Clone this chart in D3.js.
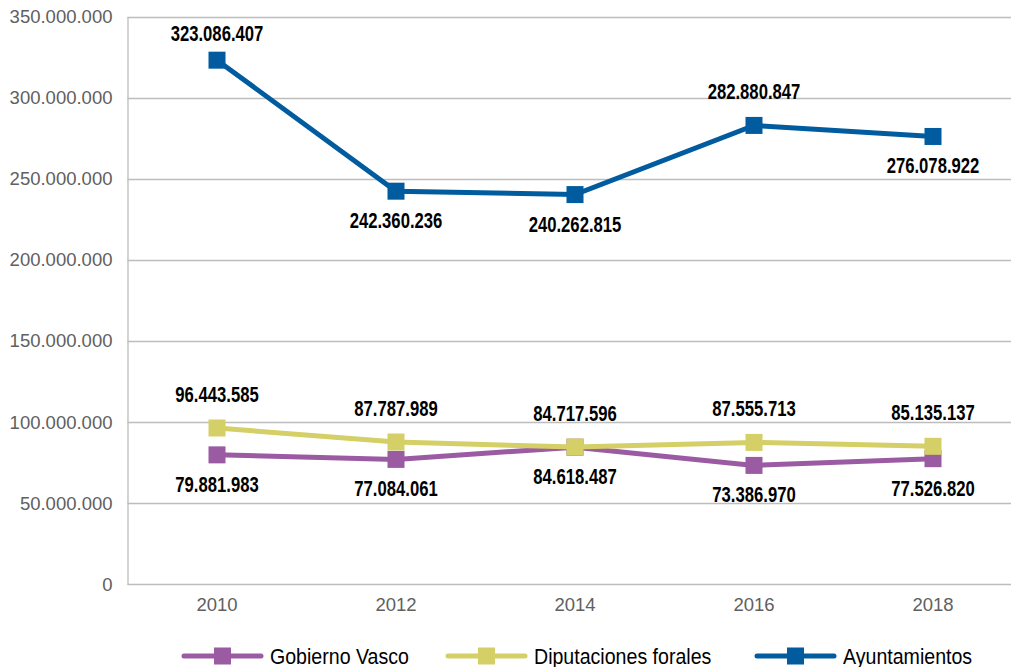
<!DOCTYPE html>
<html><head><meta charset="utf-8">
<script src="https://cdn.jsdelivr.net/npm/d3@7"></script>
<style>
html,body{margin:0;padding:0;background:#fff;}
svg{display:block;}
</style></head>
<body>
<svg id="chart" width="1011" height="667"></svg>
<script>
const years = ["2010","2012","2014","2016","2018"];
const gobiernoVasco = [79881983, 77084061, 84618487, 73386970, 77526820];
const diputaciones = [96443585, 87787989, 84717596, 87555713, 85135137];
const ayuntamientos = [323086407, 242360236, 240262815, 282880847, 276078922];
const ayuntamientosLabelPos = ["above","below","below","above","below"];
const yTicks = [0, 50000000, 100000000, 150000000, 200000000, 250000000, 300000000, 350000000];

(function(){
const series = [
  {name:"Gobierno Vasco", values:gobiernoVasco, color:"#9A5BA3", pos:years.map(()=>"below")},
  {name:"Diputaciones forales", values:diputaciones, color:"#D4CF66", pos:years.map(()=>"above")},
  {name:"Ayuntamientos", values:ayuntamientos, color:"#005C9F", pos:ayuntamientosLabelPos}
];

const fmt = v => d3.format(",")(v).replace(/,/g,".");
const svg = d3.select("#chart");
const mLeft = 127.5, mTop = 16.5, mBottom = 584.5;
const x = d3.scaleBand().domain(years).range([mLeft, mLeft + 179*5]);
const y = d3.scaleLinear().domain([0, 350000000]).range([mBottom, mTop]);

function condense(sel, factor){
  sel.each(function(){
    const w = this.getComputedTextLength();
    d3.select(this).attr("textLength", w*factor).attr("lengthAdjust","spacingAndGlyphs");
  });
}

// gridlines
svg.append("g").selectAll("line").data(yTicks.filter(d=>d>0)).join("line")
  .attr("x1", mLeft).attr("x2", 1011)
  .attr("y1", d=>Math.round(y(d))+0.5).attr("y2", d=>Math.round(y(d))+0.5)
  .attr("stroke", "#BDBDBD").attr("stroke-width", 1.3);

// y axis
const yAxis = svg.append("g").attr("transform", `translate(${mLeft},0)`)
  .call(d3.axisLeft(y).tickValues(yTicks).tickFormat(fmt).tickSize(0).tickPadding(15));
yAxis.select(".domain").attr("stroke","#BDBDBD").attr("stroke-width",1.3);
yAxis.selectAll("text").attr("font-family","'Liberation Sans', Arial, sans-serif")
  .attr("font-size","18.5px").attr("fill","#606060");

// x axis
const xAxis = svg.append("g").attr("transform", `translate(0,${mBottom})`)
  .call(d3.axisBottom(x).tickSize(0).tickPadding(13));
xAxis.select(".domain").attr("d", `M${mLeft},0H1011`).attr("stroke","#BDBDBD").attr("stroke-width",1.3);
xAxis.selectAll("text").attr("font-family","'Liberation Sans', Arial, sans-serif")
  .attr("font-size","18.5px").attr("fill","#606060");

const cx = d => x(d) + x.bandwidth()/2;
const line = d3.line().x((d,i)=>cx(years[i])).y(d=>y(d));
const ms = 17;

series.forEach(s => {
  const g = svg.append("g");
  g.append("path").datum(s.values).attr("d", line)
    .attr("fill","none").attr("stroke", s.color).attr("stroke-width", 5);
  g.selectAll("rect").data(s.values).join("rect")
    .attr("x",(d,i)=>cx(years[i])-ms/2).attr("y",d=>y(d)-ms/2)
    .attr("width",ms).attr("height",ms).attr("fill",s.color);
});

series.forEach(s => {
  const t = svg.append("g").selectAll("text").data(s.values).join("text")
    .attr("x",(d,i)=>cx(years[i]))
    .attr("y",(d,i)=> s.pos[i]==="above" ? Math.max(y(d)-26, 41) : y(d)+37)
    .attr("text-anchor","middle")
    .attr("font-family","'Liberation Sans', Arial, sans-serif")
    .attr("font-weight","bold").attr("font-size","22.5px").attr("fill","#000")
    .text(d=>fmt(d));
  condense(t, 0.74);
});

// legend
const legendX = [184, 448, 757];
const ly = 656;
series.forEach((s,i) => {
  const g = svg.append("g").attr("transform", `translate(${legendX[i]},${ly})`);
  g.append("line").attr("x1",0).attr("x2",77).attr("y1",0).attr("y2",0)
    .attr("stroke",s.color).attr("stroke-width",5).attr("stroke-linecap","round");
  g.append("rect").attr("x",38.5-ms/2).attr("y",-ms/2).attr("width",ms).attr("height",ms).attr("fill",s.color);
  const t = g.append("text").attr("x",86).attr("y",7.5)
    .attr("font-family","'Liberation Sans', Arial, sans-serif")
    .attr("font-size","22.5px").attr("fill","#000").text(s.name);
  condense(t, 0.87);
});
})();
</script>
</body></html>
